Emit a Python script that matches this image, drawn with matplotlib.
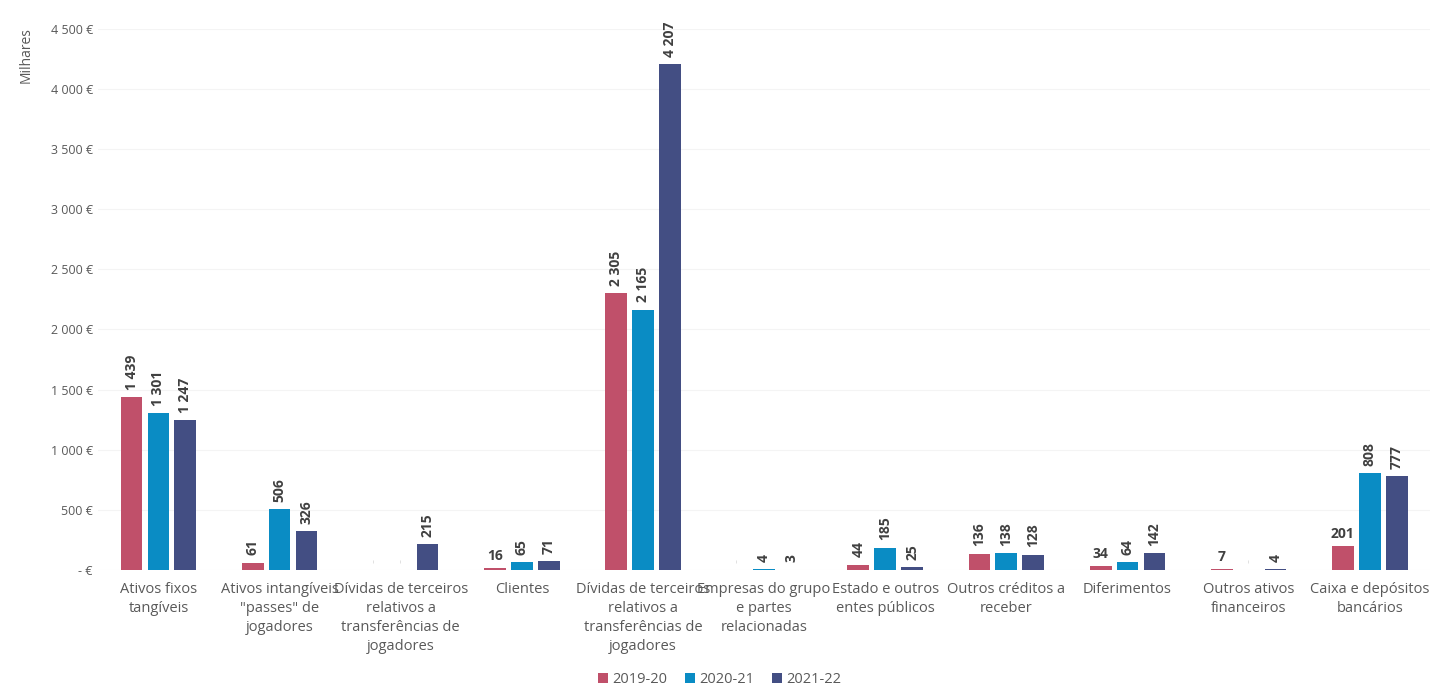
import matplotlib
matplotlib.use("Agg")
import matplotlib.pyplot as plt
import numpy as np

categories = [
    "Ativos fixos\ntangíveis",
    "Ativos intangíveis\n\"passes\" de\njogadores",
    "Dívidas de terceiros\nrelativos a\ntransferências de\njogadores",
    "Clientes",
    "Dívidas de terceiros\nrelativos a\ntransferências de\njogadores",
    "Empresas do grupo\ne partes\nrelacionadas",
    "Estado e outros\nentes públicos",
    "Outros créditos a\nreceber",
    "Diferimentos",
    "Outros ativos\nfinanceiros",
    "Caixa e depósitos\nbancários",
]
series_names = ["2019-20", "2020-21", "2021-22"]
v_2019_20 = [1439, 61, 0, 16, 2305, 0, 44, 136, 34, 7, 201]
v_2020_21 = [1301, 506, 0, 65, 2165, 4, 185, 138, 64, 0, 808]
v_2021_22 = [1247, 326, 215, 71, 4207, 3, 25, 128, 142, 4, 777]
yticks = [0, 500, 1000, 1500, 2000, 2500, 3000, 3500, 4000, 4500]

colors = ["#C0506A", "#0A8CC4", "#434E83"]
values = [v_2019_20, v_2020_21, v_2021_22]

plt.rcParams['font.family'] = ['Open Sans', 'DejaVu Sans']

fig = plt.figure(figsize=(14.39, 6.85), dpi=100)
ax = fig.add_axes([0.068, 0.168, 0.926, 0.79])

x = np.arange(len(categories))
w = 0.18
off = 0.222
for i, (vals, c, name) in enumerate(zip(values, colors, series_names)):
    xs = x + (i - 1) * off
    ax.bar(xs, vals, width=w, color=c, label=name, zorder=2)
    for xi, v in zip(xs, vals):
        if v == 0:
            ax.text(xi, 60, "-", ha="center", va="bottom", fontsize=9,
                    color="#DDDDDD", rotation=90)
            continue
        txt = f"{v:,}".replace(",", " ")
        horiz = (i == 0 and v in (16, 34, 7, 201))
        if horiz:
            ax.text(xi, v + 40, txt, ha="center", va="bottom", fontsize=10,
                    color="#404040", fontweight="bold")
        else:
            ax.text(xi, v + 60, txt, ha="center", va="bottom", fontsize=10,
                    color="#404040", fontweight="bold", rotation=90)

ax.set_xlim(-0.5, len(categories) - 0.5)
ax.set_ylim(0, 4500)
ax.set_yticks(yticks)
ax.set_yticklabels([("- €" if t == 0 else f"{t:,} €".replace(",", " ")) for t in yticks],
                   fontsize=9, color="#595959")
ax.set_xticks(x)
ax.set_xticklabels(categories, fontsize=10.5, color="#595959", linespacing=1.35)
ax.tick_params(axis="both", length=0)
ax.tick_params(axis="x", pad=9)
ax.grid(axis="y", color="#F4F4F4", linewidth=0.8, zorder=0)
for s in ax.spines.values():
    s.set_visible(False)

fig.text(0.013, 0.96, "Milhares", rotation=90, ha="left", va="top",
         fontsize=10, color="#595959")

leg = fig.legend(loc="lower center", bbox_to_anchor=(0.5, -0.022), ncol=3, frameon=False,
                 fontsize=10.5, handlelength=0.7, handleheight=0.7, columnspacing=1.2,
                 handletextpad=0.3)
for t in leg.get_texts():
    t.set_color("#595959")

fig.savefig("out.png", dpi=100)
